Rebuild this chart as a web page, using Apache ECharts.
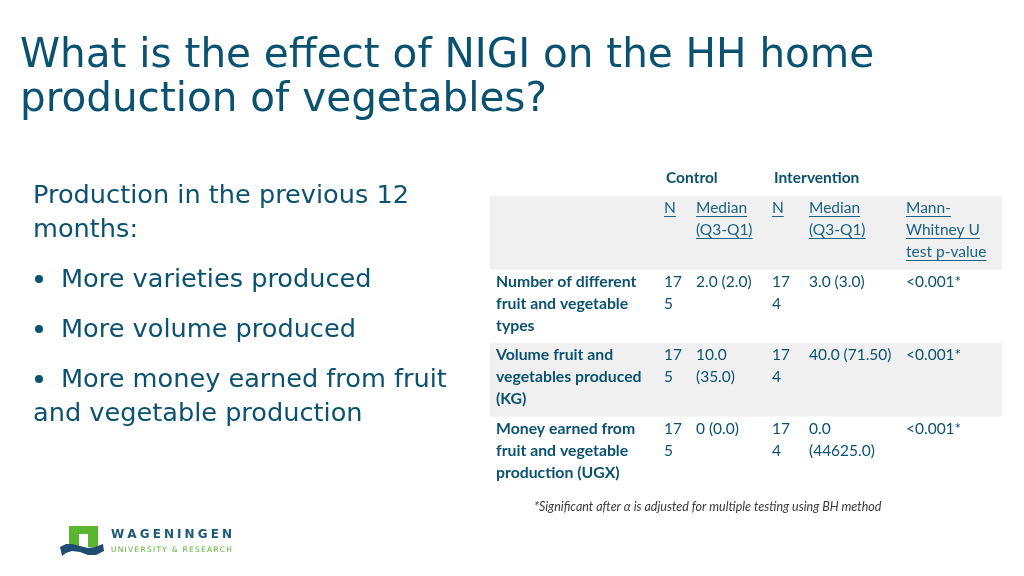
<!DOCTYPE html>
<html><head><meta charset="utf-8">
<script src="https://cdn.jsdelivr.net/npm/echarts@6/dist/echarts.min.js"></script>
<style>html,body{margin:0;padding:0;background:#fff}#c{width:1024px;height:576px}</style>
</head><body><div id="c"></div>
<script>
// ---- data ----
const rowKeys = ['header', 'types', 'volume', 'money'];
const groupLabels = ['Control', 'Intervention'];
const headerLabels = ['', 'N', 'Median\n(Q3-Q1)', 'N', 'Median\n(Q3-Q1)', 'Mann-\nWhitney U\ntest p-value'];
const rowLabels = [
  'Number of different\nfruit and vegetable\ntypes',
  'Volume fruit and\nvegetables produced\n(KG)',
  'Money earned from\nfruit and vegetable\nproduction (UGX)'
];
const controlN = [175, 175, 175];
const controlMedian = ['2.0 (2.0)', '10.0\n(35.0)', '0 (0.0)'];
const interventionN = [174, 174, 174];
const interventionMedian = ['3.0 (3.0)', '40.0 (71.50)', '0.0\n(44625.0)'];
const pValues = ['<0.001*', '<0.001*', '<0.001*'];
const shadedRows = [true, false, true, false];

const titleText = 'What is the effect of NIGI on the HH home\nproduction of vegetables?';
const introText = ['Production in the previous 12', 'months:'];
const bullets = ['More varieties produced', 'More volume produced', 'More money earned from fruit'];
const bulletTail = 'and vegetable production';
const footnote = '*Significant after \u03b1 is adjusted for multiple testing using BH method';
const logoName = 'WAGENINGEN';
const logoSub = 'UNIVERSITY & RESEARCH';

// ---- layout / style ----
const TEAL = '#0b5270';
const HEAD = '#1b6384';
const TFONT = 'Lato, "Open Sans", sans-serif';
const colX = [6, 174, 206, 282, 319, 416];   // column left offsets (axis units)
const LH = 22;

const measureCtx = document.createElement('canvas').getContext('2d');
function textW(t, font) { measureCtx.font = font; return measureCtx.measureText(t).width; }
function wrapN(n) { const s = String(n); return s.slice(0, 2) + '\n' + s.slice(2); }

const cells = [];
headerLabels.forEach((t, c) => { if (t) cells.push({ col: c, row: 0, text: t, kind: 'head' }); });
rowLabels.forEach((t, r) => {
  cells.push({ col: 0, row: r + 1, text: t, kind: 'label' });
  cells.push({ col: 1, row: r + 1, text: wrapN(controlN[r]), kind: 'val' });
  cells.push({ col: 2, row: r + 1, text: controlMedian[r], kind: 'val' });
  cells.push({ col: 3, row: r + 1, text: wrapN(interventionN[r]), kind: 'val' });
  cells.push({ col: 4, row: r + 1, text: interventionMedian[r], kind: 'val' });
  cells.push({ col: 5, row: r + 1, text: pValues[r], kind: 'val' });
});

const chart = echarts.init(document.getElementById('c'), null, { renderer: 'canvas' });

function txt(x, y, text, font, fill, lh) {
  return { type: 'text', x: x, y: y, style: { text: text, font: font, fill: fill, lineHeight: lh, verticalAlign: 'top', align: 'left' } };
}
function spaced(str, x0, x1, y, font, fill) {
  const chars = str.split('');
  const ws = chars.map(ch => textW(ch, font));
  const total = ws.reduce((a, b) => a + b, 0);
  const gap = (x1 - x0 - total) / (chars.length - 1);
  let x = x0; const out = [];
  chars.forEach((ch, i) => { out.push(txt(x, y, ch, font, fill, 12)); x += ws[i] + gap; });
  return out;
}
const graphics = [];
graphics.push(txt(20, 34, titleText, '40.5px "DejaVu Sans", Verdana, sans-serif', TEAL, 44));
const BFONT = '25.6px "DejaVu Sans", Verdana, sans-serif';
graphics.push(txt(33, 179, introText.join('\n'), BFONT, TEAL, 34));
bullets.forEach((b, i) => {
  graphics.push({ type: 'circle', shape: { cx: 39, cy: 279 + i * 50, r: 4 }, style: { fill: TEAL } });
  graphics.push(txt(61, 263 + i * 50, b, BFONT, TEAL, 34));
});
graphics.push(txt(33, 397, bulletTail, BFONT, TEAL, 34));
graphics.push(txt(666, 169, groupLabels[0], 'bold 15.5px ' + TFONT, TEAL, 17));
graphics.push(txt(774, 169, groupLabels[1], 'bold 15.5px ' + TFONT, TEAL, 17));
graphics.push(txt(534, 499, footnote, 'italic 12.5px ' + TFONT, '#3a3a3a', 16));

// logo
graphics.push({ type: 'polygon', shape: { points: [[69,526],[98,526],[98,547],[88,547],[88,534],[79,534],[79,547],[69,547]] }, style: { fill: '#5cb531' } });
graphics.push({ type: 'polygon', shape: { points: [[60,547],[66,544],[72,544],[80,546],[88,548],[95,547],[103,544],[104,551],[96,555],[88,555],[80,552],[72,551],[66,553],[62,556]] }, style: { fill: '#1f4d72' } });
spaced(logoName, 111, 232, 529, 'bold 12px "DejaVu Sans", sans-serif', '#1c5a78').forEach(g => graphics.push(g));
spaced(logoSub, 111, 232, 544, '7.5px "DejaVu Sans", sans-serif', '#5cb531').forEach(g => graphics.push(g));

chart.setOption({
  animation: false,
  grid: { left: 490, right: 22, top: 196, bottom: 86 },
  xAxis: { type: 'value', min: 0, max: 512, show: false },
  yAxis: { type: 'category', data: rowKeys, inverse: true, show: false },
  graphic: graphics,
  series: [
    {
      type: 'custom', silent: true,
      data: rowKeys.map((k, i) => [0, i]),
      renderItem: function (params, api) {
        const i = params.dataIndex;
        const a = api.coord([0, i]), b = api.coord([512, i]);
        const h = api.size([0, 1])[1];
        return { type: 'rect', shape: { x: a[0], y: a[1] - h / 2, width: b[0] - a[0], height: h },
          style: { fill: shadedRows[i] ? '#f0f0f0' : 'rgba(0,0,0,0)' } };
      }
    },
    {
      type: 'custom', silent: true,
      data: cells.map(c => [colX[c.col], c.row]),
      renderItem: function (params, api) {
        const c = cells[params.dataIndex];
        const p = api.coord([colX[c.col], c.row]);
        const h = api.size([0, 1])[1];
        const top = p[1] - h / 2 + 1;
        const font = (c.kind === 'label' ? 'bold 15.8px ' : '15.5px ') + TFONT;
        const fill = c.kind === 'head' ? HEAD : TEAL;
        const children = [{ type: 'text', x: p[0], y: top, style: { text: c.text, font: font, fill: fill, lineHeight: LH, verticalAlign: 'top', align: 'left' } }];
        if (c.kind === 'head') {
          c.text.split('\n').forEach((ln, k) => {
            const w = textW(ln, font);
            const yy = Math.round(top + k * LH + 19) + 0.5;
            children.push({ type: 'line', shape: { x1: p[0], y1: yy, x2: p[0] + w, y2: yy }, style: { stroke: HEAD, lineWidth: 1 } });
          });
        }
        return { type: 'group', children: children };
      }
    }
  ]
});
</script></body></html>
